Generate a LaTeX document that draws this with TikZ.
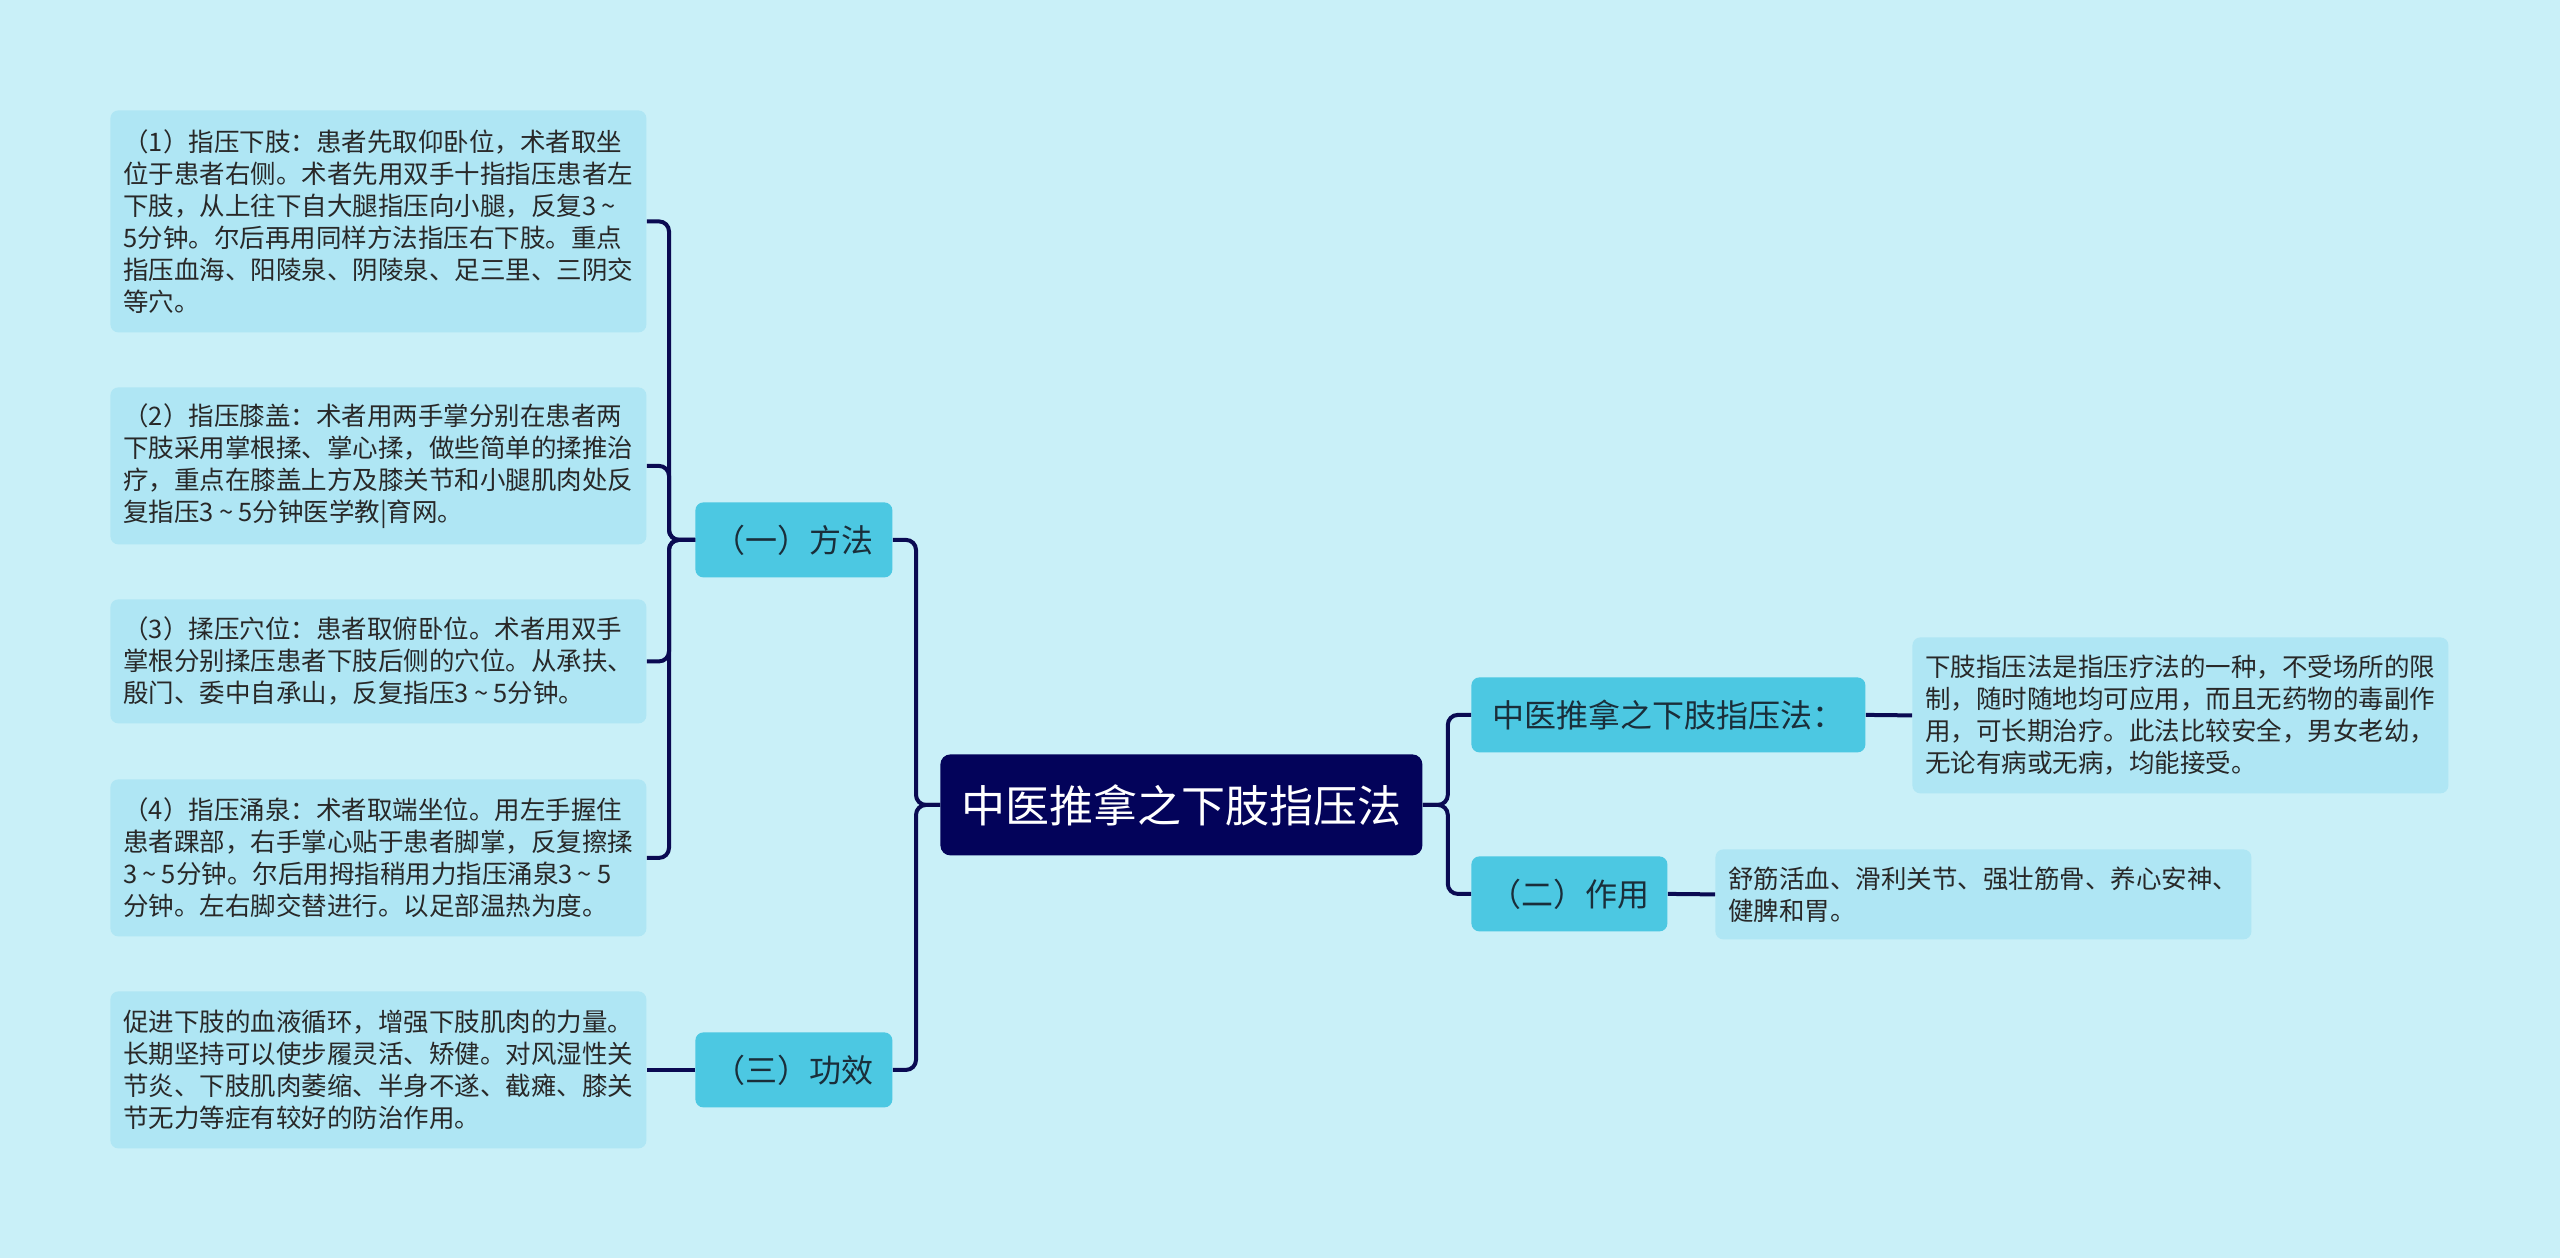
\documentclass[tikz,border=0pt]{standalone}
\usepackage{fontspec}
\setmainfont{Noto Sans CJK SC}
\usepackage{tikz}
\definecolor{bgcyan}{RGB}{201,240,248}
\definecolor{leafblue}{RGB}{175,230,244}
\definecolor{branchblue}{RGB}{76,200,226}
\definecolor{mainnavy}{RGB}{3,3,90}
\definecolor{linknavy}{RGB}{10,10,82}
\definecolor{textdark}{RGB}{40,40,40}
\definecolor{branchtext}{RGB}{26,46,58}
\newcommand{\bis}{\hspace{0.2em}\textasciitilde\hspace{0.2em}}

\begin{document}
\begin{tikzpicture}[x=0.5pt, y=-0.5pt,
				leaf/.style={fill=leafblue, rounded corners=4pt, anchor=north west, text width=255pt, inner xsep=6.5pt, inner ysep=0pt, align=left, text=textdark, font=\fontsize{12.75pt}{16pt}\selectfont},
				branch/.style={fill=branchblue, rounded corners=4pt, anchor=north west, minimum height=37.5pt, inner xsep=0pt, text=branchtext, font=\fontsize{16pt}{19pt}\selectfont},
				mainbox/.style={fill=mainnavy, rounded corners=5pt, anchor=north west, minimum width=241pt, minimum height=50.5pt, text=white, font=\fontsize{22pt}{26pt}\selectfont},
				link/.style={draw=linknavy, line width=2pt, rounded corners=5pt}]
				%Hintergrund
				\fill[bgcyan] (0,0) rectangle (2560,1258);
				\useasboundingbox (0,0) rectangle (2560,1258);
				% Hauptknoten
				\node[mainbox] (main) at (940,754) {中医推拿之下肢指压法};
				% Aeste
				\node[branch, minimum width=98.5pt] (fangfa) at (695,502) {（一）方法};
				\node[branch, minimum width=98.5pt] (gongxiao) at (695,1032) {（三）功效};
				\node[branch, minimum width=197pt] (jieshao) at (1471,677) {中医推拿之下肢指压法：};
				\node[branch, minimum width=98pt] (zuoyong) at (1471,856) {（二）作用};
				% Blaetter links
				\node[leaf, minimum height=111pt] (L1) at (110,110) {（1）指压下肢：患者先取仰卧位，术者取坐\\位于患者右侧。术者先用双手十指指压患者左\\下肢，从上往下自大腿指压向小腿，反复3\bis\\5分钟。尔后再用同样方法指压右下肢。重点\\指压血海、阳陵泉、阴陵泉、足三里、三阴交\\等穴。};
				\node[leaf, minimum height=78.5pt] (L2) at (110,387) {（2）指压膝盖：术者用两手掌分别在患者两\\下肢采用掌根揉、掌心揉，做些简单的揉推治\\疗，重点在膝盖上方及膝关节和小腿肌肉处反\\复指压3\bis 5分钟医学教|育网。};
				\node[leaf, minimum height=62pt] (L3) at (110,599) {（3）揉压穴位：患者取俯卧位。术者用双手\\掌根分别揉压患者下肢后侧的穴位。从承扶、\\殷门、委中自承山，反复指压3\bis 5分钟。};
				\node[leaf, minimum height=78.5pt] (L4) at (110,779) {（4）指压涌泉：术者取端坐位。用左手握住\\患者踝部，右手掌心贴于患者脚掌，反复擦揉\\3\bis 5分钟。尔后用拇指稍用力指压涌泉3\bis 5\\分钟。左右脚交替进行。以足部温热为度。};
				\node[leaf, minimum height=78.5pt] (L5) at (110,991) {促进下肢的血液循环，增强下肢肌肉的力量。\\长期坚持可以使步履灵活、矫健。对风湿性关\\节炎、下肢肌肉萎缩、半身不遂、截瘫、膝关\\节无力等症有较好的防治作用。};
				% Blaetter rechts
				\node[leaf, minimum height=78pt] (R1) at (1912,637) {下肢指压法是指压疗法的一种，不受场所的限\\制，随时随地均可应用，而且无药物的毒副作\\用，可长期治疗。此法比较安全，男女老幼，\\无论有病或无病，均能接受。};
				\node[leaf, minimum height=45pt] (R2) at (1715,849) {舒筋活血、滑利关节、强壮筋骨、养心安神、\\健脾和胃。};
				% Verbindungen
				\foreach \l in {L1,L2,L3,L4} \draw[link] (fangfa.west) -- ++(-26,0) |- (\l.east);
				\draw[link] (gongxiao.west) -- (L5.east);
				\foreach \b in {fangfa,gongxiao} \draw[link] (main.west) -- ++(-24,0) |- (\b.east);
				\foreach \b in {jieshao,zuoyong} \draw[link] (main.east) -- ++(25,0) |- (\b.west);
				\draw[link] (jieshao.east) -- (R1.west);
				\draw[link] (zuoyong.east) -- (R2.west);
			\end{tikzpicture}
\end{document}
